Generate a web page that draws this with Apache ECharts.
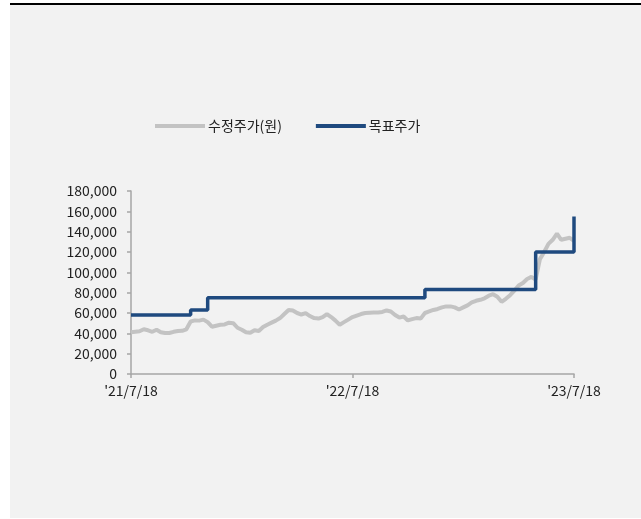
<!DOCTYPE html>
<html>
<head>
<meta charset="UTF-8">
<title></title>
<style>
html,body{margin:0;padding:0;background:#fff;}
#charts{width:641px;height:519px;}
</style>
</head>
<body>
<div id="charts"></div>
<script src="https://cdn.jsdelivr.net/npm/echarts@6/dist/echarts.min.js"></script>
<script>
// 주간 데이터 ('21/7/18 ~ '23/7/18, 105주)
var weeks = [];
var start = new Date(2021, 6, 18);
for (var i = 0; i < 105; i++) {
    var d = new Date(start.getTime() + i * 7 * 86400000);
    weeks.push(d.getFullYear() + '-' + (d.getMonth() + 1) + '-' + d.getDate());
}
// x축 눈금 라벨 (0, 52, 104번째)
var tickIdx = [0, 52, 104];
var tickLabels = ["'21/7/18", "'22/7/18", "'23/7/18"];

// 수정주가(원)
var price = [
    41000, 41500, 42000, 44000, 43000, 41500, 43500, 41000, 40300, 40300,
    41500, 42300, 42500, 44000, 51700, 52700, 52500, 53500, 51000, 46500,
    47500, 48500, 48800, 50500, 50000, 45500, 43500, 41000, 40500, 43000,
    42300, 46200, 48500, 50500, 52500, 55000, 59000, 63000, 62500, 60000,
    58500, 59800, 57000, 55000, 54500, 56000, 59000, 56000, 52500, 48500,
    51000, 53500, 56000, 57500, 59000, 60000, 60300, 60600, 60600, 61000,
    62500, 61500, 58000, 55500, 56500, 52700, 54000, 55000, 54500, 60000,
    61500, 63000, 64000, 65500, 66500, 66500, 65500, 63500, 65500, 67500,
    70400, 72000, 73000, 74500, 77000, 78500, 76000, 71000, 74000, 77500,
    82000, 87000, 89500, 93500, 95500, 93000, 113000, 120000, 128000, 132000,
    138000, 132000, 133000, 134000, 131000
];

// 목표주가 (변경 시점만 기록, 나머지는 이전 값 유지)
var targetChanges = {0: 58000, 14: 63000, 18: 75000, 69: 83000, 95: 120000, 104: 155000};
var target = [];
var cur = null;
for (var j = 0; j < weeks.length; j++) {
    if (targetChanges[j] !== undefined) cur = targetChanges[j];
    target.push(cur);
}

var mycharts = echarts.init(document.getElementById('charts'));
var font = '"Noto Sans CJK KR", "Noto Sans", sans-serif';

var option = {
    backgroundColor: 'transparent',
    animation: false,
    graphic: [
        {type: 'rect', shape: {x: 10, y: 5, width: 631, height: 513}, style: {fill: '#f2f2f2'}, z: -10},
        {type: 'rect', shape: {x: 10, y: 3, width: 631, height: 2}, style: {fill: '#000'}, z: -10}
    ],
    legend: {
        left: 155,
        top: 119,
        padding: 0,
        itemWidth: 50,
        itemHeight: 4,
        itemGap: 34,
        icon: 'rect',
        textStyle: {fontFamily: font, fontSize: 14, color: '#222', padding: [0, 0, 0, -2]},
        data: ['수정주가(원)', '목표주가']
    },
    grid: {left: 131, right: 67, top: 191, bottom: 145, containLabel: false},
    xAxis: {
        type: 'category',
        boundaryGap: false,
        data: weeks,
        axisLine: {lineStyle: {color: '#a6a6a6', width: 1.5}},
        axisTick: {
            length: 4,
            lineStyle: {color: '#a6a6a6', width: 1.5},
            interval: function (idx) { return tickIdx.indexOf(idx) >= 0; }
        },
        axisLabel: {
            margin: 10,
            fontFamily: font,
            fontSize: 14,
            color: '#222',
            interval: function (idx) { return tickIdx.indexOf(idx) >= 0; },
            formatter: function (v, idx) {
                var k = tickIdx.indexOf(idx);
                return k >= 0 ? tickLabels[k] : '';
            }
        },
        splitLine: {show: false}
    },
    yAxis: {
        type: 'value',
        min: 0,
        max: 180000,
        interval: 20000,
        axisLine: {show: true, lineStyle: {color: '#a6a6a6', width: 1.5}},
        axisTick: {show: true, length: 4, lineStyle: {color: '#a6a6a6', width: 1.5}},
        axisLabel: {
            margin: 14,
            fontFamily: font,
            fontSize: 14,
            color: '#222',
            formatter: function (v) { return v.toLocaleString('en-US'); }
        },
        splitLine: {show: false}
    },
    series: [
        {
            name: '수정주가(원)',
            type: 'line',
            data: price,
            symbol: 'none',
            itemStyle: {color: '#c3c3c3'},
            lineStyle: {color: '#c3c3c3', width: 4}
        },
        {
            name: '목표주가',
            type: 'line',
            data: target,
            step: 'end',
            symbol: 'none',
            itemStyle: {color: '#1f4a7f'},
            lineStyle: {color: '#1f4a7f', width: 3.5}
        }
    ]
};
mycharts.setOption(option);
</script>
</body>
</html>
